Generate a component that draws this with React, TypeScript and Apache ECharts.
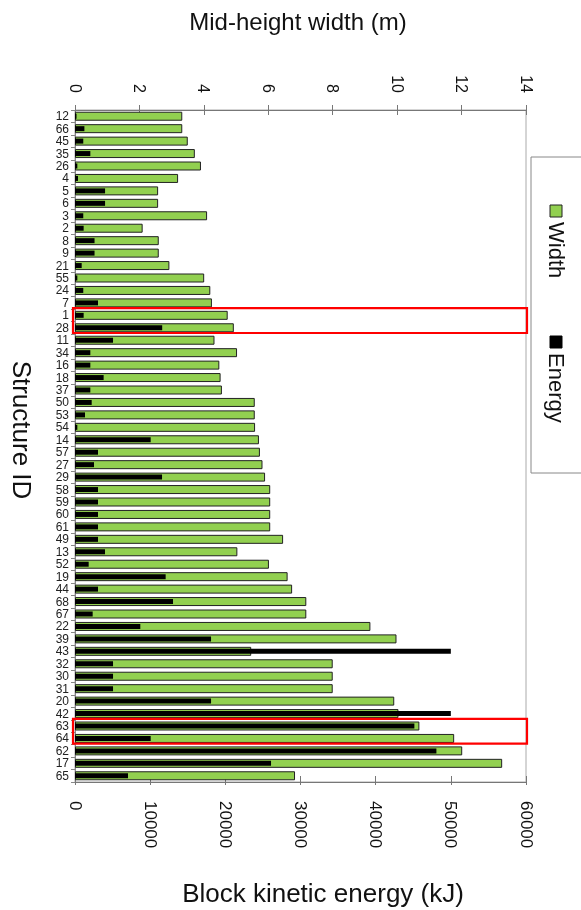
import React, { useEffect, useRef } from "react";
import * as echarts from "echarts";

const structureIds = ["12","66","45","35","26","4","5","6","3","2","8","9","21","55","24","7","1","28","11","34","16","18","37","50","53","54","14","57","27","29","58","59","60","61","49","13","52","19","44","68","67","22","39","43","32","30","31","20","42","63","64","62","17","65"];

const midHeightWidth = [3.33,3.33,3.5,3.72,3.91,3.2,2.58,2.58,4.1,2.1,2.6,2.6,2.93,4.01,4.2,4.25,4.74,4.93,4.33,5.03,4.48,4.52,4.56,5.58,5.58,5.59,5.71,5.74,5.82,5.9,6.06,6.06,6.06,6.06,6.46,5.04,6.02,6.6,6.74,7.18,7.18,9.17,9.98,5.47,8.0,8.0,8.0,9.91,10.04,10.69,11.77,12.02,13.26,6.83];

const kineticEnergy = [200,1250,1100,2040,310,400,4000,4000,1100,1150,2600,2600,890,310,1100,3060,1150,11600,5060,2040,2040,3810,2040,2220,1330,310,10070,3060,2530,11580,3060,3060,3060,3060,3060,3990,1820,12060,3060,13040,2350,8690,18100,50000,5060,5060,5060,18100,50000,45150,10070,48080,26080,7050];

const highlightGroups = [["1", "28"], ["63", "64"]];

const FONT = "'Liberation Sans', Arial, Helvetica, sans-serif";

export default function App() {
  const ref = useRef<HTMLDivElement>(null);
  useEffect(() => {
    if (!ref.current) return;
    const chart = echarts.init(ref.current, null, { renderer: "svg" });
    chart.setOption({
      animation: false,
      textStyle: { fontFamily: FONT },
      grid: { left: 75, right: 55, top: 110, bottom: 128, show: true, borderColor: "#aaa", borderWidth: 1 },
      xAxis: [
        {
          type: "value", position: "top", min: 0, max: 14, interval: 2,
          axisLine: { show: true, lineStyle: { color: "#777" } },
          axisTick: { show: true, length: 5, lineStyle: { color: "#777" } },
          axisLabel: { rotate: 90, fontSize: 16, color: "#111", margin: 17, fontFamily: FONT },
          splitLine: { show: false },
        },
        {
          type: "value", position: "bottom", min: 0, max: 60000, interval: 10000,
          axisLine: { show: true, lineStyle: { color: "#777" } },
          axisTick: { show: true, length: 3, lineStyle: { color: "#777" } },
          axisLabel: {
            rotate: -90, fontSize: 17, color: "#111", margin: 19, fontFamily: FONT,
            formatter: (v: number) => String(v),
          },
          splitLine: { show: false },
        },
        {
          type: "value", position: "top", min: 0, max: 14, interval: 2,
          axisLine: { show: false },
          axisTick: { show: true, inside: true, length: 5, lineStyle: { color: "#777" } },
          axisLabel: { show: false },
          splitLine: { show: false },
        },
        {
          type: "value", position: "bottom", min: 0, max: 60000, interval: 10000,
          axisLine: { show: false },
          axisTick: { show: true, inside: true, length: 6, lineStyle: { color: "#777" } },
          axisLabel: { show: false },
          splitLine: { show: false },
        },
      ],
      yAxis: [
        {
          type: "category", inverse: true, data: structureIds,
          axisLine: { show: true, lineStyle: { color: "#888" } },
          axisTick: { show: true, length: 4, interval: 0, lineStyle: { color: "#888" } },
          axisLabel: { interval: 0, fontSize: 12, color: "#222", margin: 6, fontFamily: FONT, lineHeight: 12 },
        },
        {
          type: "category", inverse: true, data: structureIds, show: false,
        },
      ],
      series: [
        {
          name: "Width", type: "bar", xAxisIndex: 0, yAxisIndex: 0,
          data: midHeightWidth, barWidth: 9,
          itemStyle: { color: "#92D050", borderColor: "#222", borderWidth: 1 },
        },
        {
          name: "Energy", type: "bar", xAxisIndex: 1, yAxisIndex: 1,
          data: kineticEnergy, barWidth: 5,
          itemStyle: { color: "#000" },
        },
      ],
    });

    const yc = (id: string) => chart.convertToPixel({ yAxisIndex: 0 }, id) as number;
    const band = yc(structureIds[1]) - yc(structureIds[0]);
    const x0 = chart.convertToPixel({ xAxisIndex: 0 }, 0) as number;
    const x1 = chart.convertToPixel({ xAxisIndex: 0 }, 14) as number;

    const redRects = highlightGroups.map((g) => {
      const top = yc(g[0]) - band / 2 - 1;
      const bottom = yc(g[g.length - 1]) + band / 2 - 1;
      return {
        type: "rect",
        shape: { x: x0 - 2, y: top, width: x1 - x0 + 3, height: bottom - top },
        style: { fill: "none", stroke: "#ff0000", lineWidth: 2.2 },
        z: 100,
      };
    });

    chart.setOption({
      graphic: [
        ...redRects,
        {
          type: "text", x: 298, y: 21,
          style: { text: "Mid-height width (m)", fontSize: 24, fill: "#111", textAlign: "center", textVerticalAlign: "middle", fontFamily: FONT },
        },
        {
          type: "text", x: 323, y: 893,
          style: { text: "Block kinetic energy (kJ)", fontSize: 26, fill: "#111", textAlign: "center", textVerticalAlign: "middle", fontFamily: FONT },
        },
        {
          type: "text", x: 22, y: 430, rotation: -Math.PI / 2,
          style: { text: "Structure ID", fontSize: 26, fill: "#111", textAlign: "center", textVerticalAlign: "middle", fontFamily: FONT },
        },
        {
          type: "rect",
          shape: { x: 531, y: 157, width: 80, height: 316 },
          style: { fill: "#fff", stroke: "#888", lineWidth: 1 },
        },
        {
          type: "rect",
          shape: { x: 550, y: 205, width: 12, height: 12 },
          style: { fill: "#92D050", stroke: "#222", lineWidth: 1 },
        },
        {
          type: "text", x: 556, y: 222, rotation: -Math.PI / 2,
          style: { text: "Width", fontSize: 22, fill: "#111", textAlign: "left", textVerticalAlign: "middle", fontFamily: FONT },
        },
        {
          type: "rect",
          shape: { x: 550, y: 336, width: 12, height: 12 },
          style: { fill: "#000", stroke: "#000", lineWidth: 1 },
        },
        {
          type: "text", x: 556, y: 353, rotation: -Math.PI / 2,
          style: { text: "Energy", fontSize: 22, fill: "#111", textAlign: "left", textVerticalAlign: "middle", fontFamily: FONT },
        },
      ],
    });

    return () => chart.dispose();
  }, []);
  return <div ref={ref} style={{ position: "fixed", left: 0, top: 0, width: 581, height: 910 }} />;
}
